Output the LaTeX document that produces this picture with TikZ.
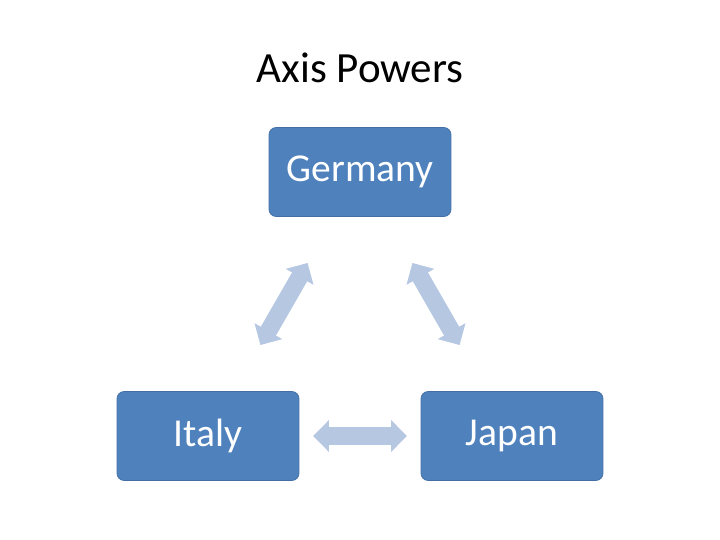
\documentclass[tikz,border=0pt]{standalone}
\usepackage{fontspec}
\setmainfont{Carlito}
\usetikzlibrary{positioning, arrows.meta}
\definecolor{boxblue}{RGB}{79,129,189}
\definecolor{linkblue}{RGB}{182,199,226}

\begin{document}
\begin{tikzpicture}[
    x=0.02cm, y=-0.02cm,
    power/.style={fill=boxblue, draw=boxblue!85!black, line width=0.4pt, rounded corners=4pt, minimum width=3.64cm, minimum height=1.78cm, text=white, font=\fontsize{22.5}{27}\selectfont},
    link/.style={draw=linkblue, line width=0.35cm, shorten >=2.1cm, shorten <=2.1cm, {Triangle[width=0.62cm,length=0.32cm,fill=linkblue]}-{Triangle[width=0.62cm,length=0.32cm,fill=linkblue]}}
]
    \useasboundingbox (0,0) rectangle (720,540);

    % Title
    \node[font=\fontsize{24.5}{29}\selectfont] (title) at (360,68) {Axis Powers};

    % Nodes
    \node[power] (germany) at (360,172) {Germany};
    \node[power] (italy) at (208,436) {Italy};
    \node[power] (japan) at (512,436) {Japan};

    % Connections
    \draw[link] (italy.center) -- (germany.center);
    \draw[link] (germany.center) -- (japan.center);
    \draw[link] (italy.center) -- (japan.center);
\end{tikzpicture}
\end{document}
